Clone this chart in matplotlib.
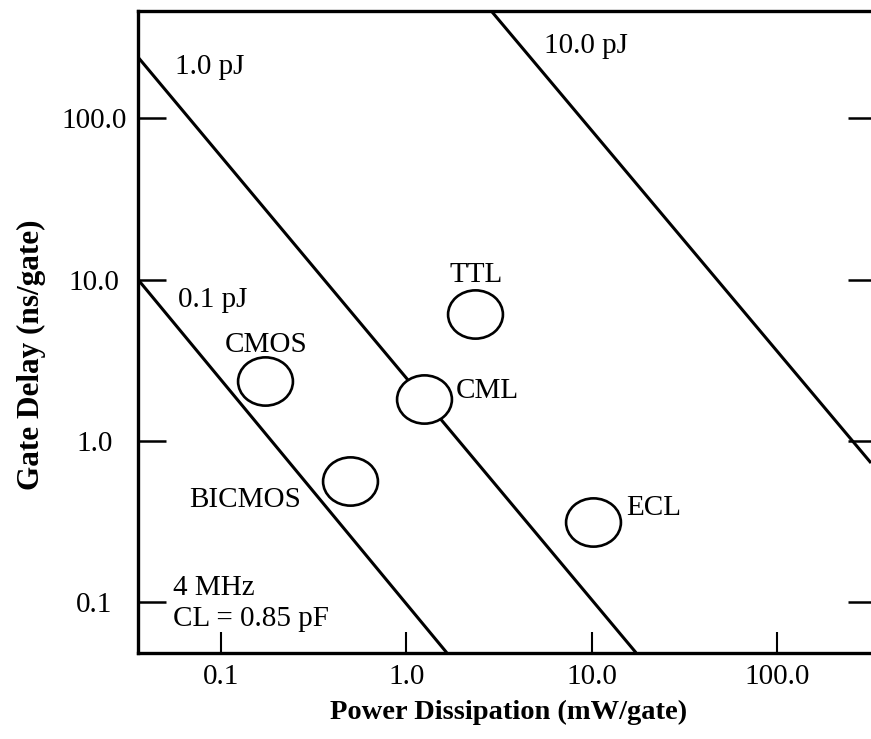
import matplotlib
matplotlib.use("Agg")
import matplotlib.pyplot as plt
from matplotlib.path import Path
from matplotlib.transforms import Affine2D

plt.rcParams['font.family'] = ['Liberation Serif', 'DejaVu Serif']

# ---- data ----
x_limits = [0.0357, 320]
y_limits = [0.0483, 466]
x_ticks = [0.1, 1.0, 10.0, 100.0]
x_tick_labels = ['0.1', '1.0', '10.0', '100.0']
y_ticks = [0.1, 1.0, 10.0, 100.0]
y_tick_labels = ['0.1', '1.0', '10.0', '100.0']

# constant-energy lines (endpoints)
energy_labels = ['0.1 pJ', '1.0 pJ', '10.0 pJ']
energy_x = [[0.0357, 1.65], [0.0357, 17.3], [2.86, 320]]
energy_y = [[10.0, 0.0483], [240.0, 0.0483], [466.0, 0.727]]
energy_label_x = [0.0589, 0.0565, 5.54]
energy_label_y = [6.75, 189.0, 254.0]

# logic families
families = ['CMOS', 'BICMOS', 'CML', 'TTL', 'ECL']
power = [0.173, 0.497, 1.245, 2.35, 10.1]
delay = [2.35, 0.563, 1.81, 6.08, 0.313]
family_label_x = [0.105, 0.0675, 1.85, 1.70, 15.3]
family_label_y = [3.57, 0.389, 1.83, 9.70, 0.3455]

notes = ['4 MHz', 'CL = 0.85 pF']
note_x = [0.0549, 0.0549]
note_y = [0.110, 0.0707]

# ---- figure ----
fig = plt.figure(figsize=(8.71, 7.39), dpi=100)
ax = fig.add_axes([138 / 871, 1 - 652.7 / 739, 733 / 871, 642 / 739])
ax.set_xscale('log')
ax.set_yscale('log')
ax.set_xlim(x_limits)
ax.set_ylim(y_limits)

for xs, ys in zip(energy_x, energy_y):
    ax.plot(xs, ys, color='black', lw=2.2, solid_capstyle='butt', zorder=2)
for lab, lx, ly in zip(energy_labels, energy_label_x, energy_label_y):
    ax.text(lx, ly, lab, fontsize=21, ha='left', va='baseline')

ellipse = Path.unit_circle().transformed(Affine2D().scale(1.0, 0.88))
ax.plot(power, delay, linestyle='none', marker=ellipse, markersize=39.5,
        markerfacecolor='white', markeredgecolor='black', markeredgewidth=1.9,
        zorder=3)
for lab, lx, ly in zip(families, family_label_x, family_label_y):
    ax.text(lx, ly, lab, fontsize=21, ha='left', va='baseline', zorder=4)

for lab, lx, ly in zip(notes, note_x, note_y):
    ax.text(lx, ly, lab, fontsize=21, ha='left', va='baseline')

# spines
for s in ['left', 'top', 'bottom']:
    ax.spines[s].set_linewidth(2.4)
ax.spines['right'].set_visible(False)

ax.minorticks_off()
ax.set_xticks(x_ticks)
ax.set_xticklabels(x_tick_labels)
ax.set_yticks(y_ticks)
ax.set_yticklabels(y_tick_labels)
ax.tick_params(axis='x', which='major', direction='in', length=15, width=1.5,
               labelsize=21, pad=8, top=False)
ax.tick_params(axis='y', which='major', direction='in', length=20, width=1.8,
               labelsize=21, pad=31.5, right=True)
ax.tick_params(axis='y', which='minor', left=False, right=False)
ax.tick_params(axis='x', which='minor', bottom=False, top=False)
for t in ax.yaxis.get_major_ticks():
    t.tick2line.set_markersize(16.5)
for lab in ax.get_yticklabels():
    lab.set_horizontalalignment('center')

ax.set_xlabel('Power Dissipation (mW/gate)', fontsize=20.5, fontweight='bold')
ax.xaxis.set_label_coords(0.506, -0.074)
ax.set_ylabel('Gate Delay (ns/gate)', fontsize=22.5, fontweight='bold')
ax.yaxis.set_label_coords(-0.126, 0.4637)

fig.savefig('out.png', dpi=100)
